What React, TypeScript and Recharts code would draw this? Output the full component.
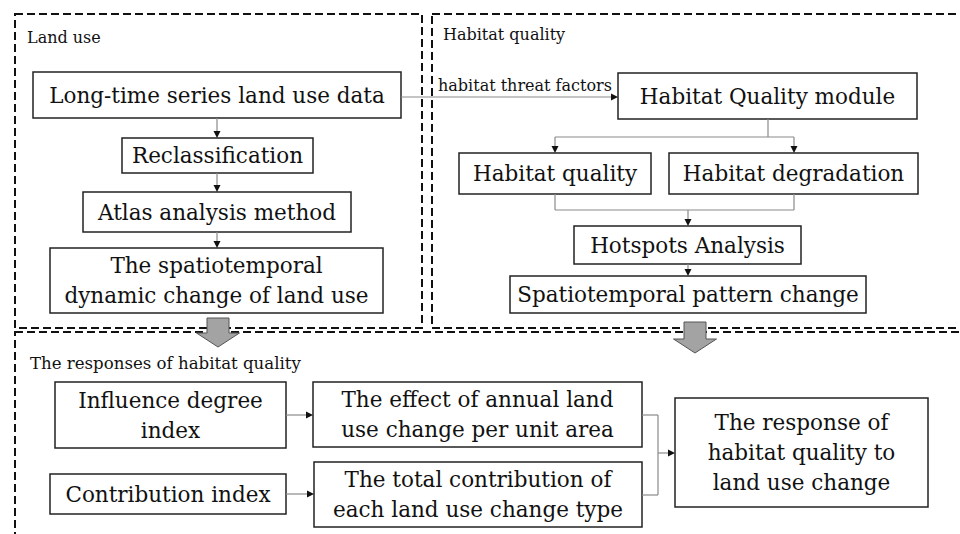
import React from "react";
import { ComposedChart, XAxis, YAxis, ReferenceArea, ReferenceLine, ReferenceDot } from "recharts";

// diagram space is 960 x 534 units, y grows downward
const WIDTH = 960;
const HEIGHT = 534;

const regions = [
  { id: "landUse", x1: 15, x2: 422, y1: 14, y2: 328 },
  { id: "habitat", x1: 432, x2: 975, y1: 14, y2: 328 },
  { id: "responses", x1: 15, x2: 975, y1: 332, y2: 550 },
];

const titles = [
  { text: "Land use", x: 27, y: 43, big: false },
  { text: "Habitat quality", x: 443, y: 40, big: false },
  { text: "The responses of habitat quality", x: 30, y: 369, big: true },
  { text: "habitat threat factors", x: 438, y: 91, big: false },
];

const boxes = [
  { lines: ["Long-time series land use data"], x1: 33, x2: 401, y1: 72, y2: 118 },
  { lines: ["Reclassification"], x1: 122, x2: 313, y1: 138, y2: 173 },
  { lines: ["Atlas analysis method"], x1: 83, x2: 351, y1: 192, y2: 232 },
  { lines: ["The spatiotemporal", "dynamic change of land use"], x1: 50, x2: 383, y1: 248, y2: 313 },
  { lines: ["Habitat Quality module"], x1: 618, x2: 917, y1: 73, y2: 119 },
  { lines: ["Habitat quality"], x1: 459, x2: 651, y1: 153, y2: 194 },
  { lines: ["Habitat degradation"], x1: 669, x2: 918, y1: 153, y2: 194 },
  { lines: ["Hotspots Analysis"], x1: 574, x2: 801, y1: 226, y2: 264 },
  { lines: ["Spatiotemporal pattern change"], x1: 510, x2: 866, y1: 276, y2: 313 },
  { lines: ["Influence degree", "index"], x1: 55, x2: 286, y1: 382, y2: 448 },
  { lines: ["Contribution index"], x1: 50, x2: 286, y1: 474, y2: 514 },
  { lines: ["The effect of annual land", "use change per unit area"], x1: 313, x2: 642, y1: 382, y2: 447 },
  { lines: ["The total contribution of", "each land use change type"], x1: 314, x2: 642, y1: 462, y2: 527 },
  { lines: ["The response of", "habitat quality to", "land use change"], x1: 675, x2: 928, y1: 398, y2: 507 },
];

// connectors: [x1, y1, x2, y2, hasArrowHead]
const links: [number, number, number, number, boolean][] = [
  [217, 118, 217, 138, true],
  [217, 173, 217, 192, true],
  [217, 232, 217, 248, true],
  [401, 97, 618, 97, true],
  [768, 119, 768, 137, false],
  [555, 137, 794, 137, false],
  [555, 137, 555, 153, true],
  [794, 137, 794, 153, true],
  [555, 194, 555, 210, false],
  [794, 194, 794, 210, false],
  [555, 210, 794, 210, false],
  [688, 210, 688, 226, true],
  [688, 264, 688, 276, true],
  [286, 415, 313, 415, true],
  [286, 494, 314, 494, true],
  [642, 415, 658, 415, false],
  [642, 495, 658, 495, false],
  [658, 415, 658, 495, false],
  [658, 453, 675, 453, true],
];

// big grey arrows between the panels: [x, yTop, yTip]
const blockArrows: [number, number, number][] = [
  [218, 318, 347],
  [695, 322, 353],
];

const FONT = "'DejaVu Serif', serif";
const INK = "#111";

const BoxShape = (props: any) => {
  const { x, y, width, height, lines } = props;
  const fs = 21.5;
  const lh = 30;
  const cx = x + width / 2;
  const cy = y + height / 2;
  return (
    <g>
      <rect x={x} y={y} width={width} height={height} fill="#fff" stroke="#222" strokeWidth={1.5} />
      <text textAnchor="middle" fontFamily={FONT} fontSize={fs} fill={INK}>
        {lines.map((t: string, i: number) => (
          <tspan key={i} x={cx} y={cy + (i - (lines.length - 1) / 2) * lh + fs * 0.36}>
            {t}
          </tspan>
        ))}
      </text>
    </g>
  );
};

const LinkShape = (props: any) => {
  const { x1, y1, x2, y2, arrow } = props;
  if (!arrow) return <line x1={x1} y1={y1} x2={x2} y2={y2} stroke="#8a8a8a" strokeWidth={1.2} />;
  const len = Math.hypot(x2 - x1, y2 - y1) || 1;
  const ux = (x2 - x1) / len;
  const uy = (y2 - y1) / len;
  const hl = 7;
  const hw = 3.5;
  const bx = x2 - ux * hl;
  const by = y2 - uy * hl;
  return (
    <g>
      <line x1={x1} y1={y1} x2={bx} y2={by} stroke="#8a8a8a" strokeWidth={1.2} />
      <polygon
        points={`${x2},${y2} ${bx - uy * hw},${by + ux * hw} ${bx + uy * hw},${by - ux * hw}`}
        fill="#111"
      />
    </g>
  );
};

const BlockArrowShape = (props: any) => {
  const { x1, y1, y2 } = props;
  const shaft = 11;
  const head = 21.5;
  const headLen = 14;
  const hb = y2 - headLen;
  const pts = [
    [x1 - shaft, y1],
    [x1 + shaft, y1],
    [x1 + shaft, hb],
    [x1 + head, hb],
    [x1, y2],
    [x1 - head, hb],
    [x1 - shaft, hb],
  ]
    .map((p) => p.join(","))
    .join(" ");
  return <polygon points={pts} fill="#a3a3a3" stroke="#555" strokeWidth={1} />;
};

export default function App() {
  return (
    <div style={{ position: "fixed", left: 0, top: 0, background: "#fff" }}>
      <ComposedChart width={WIDTH} height={HEIGHT} data={[]} margin={{ top: 0, right: 0, bottom: 0, left: 0 }}>
        <XAxis type="number" dataKey="x" domain={[0, WIDTH]} allowDataOverflow hide />
        <YAxis type="number" dataKey="y" domain={[0, HEIGHT]} allowDataOverflow reversed hide />

        {regions.map((r) => (
          <ReferenceArea
            key={r.id}
            x1={r.x1}
            x2={r.x2}
            y1={r.y1}
            y2={r.y2}
            ifOverflow="visible"
            shape={(p: any) => (
              <rect
                x={p.x}
                y={p.y}
                width={p.width}
                height={p.height}
                fill="none"
                stroke="#111"
                strokeWidth={2}
                strokeDasharray="8 4"
              />
            )}
          />
        ))}

        {titles.map((t) => (
          <ReferenceDot
            key={t.text}
            x={t.x}
            y={t.y}
            ifOverflow="visible"
            shape={(p: any) => (
              <text x={p.cx} y={p.cy} fontFamily={FONT} fontSize={t.big ? 16.6 : 16} fill={INK}>
                {t.text}
              </text>
            )}
          />
        ))}

        {links.map(([ax, ay, bx, by, arrow], i) => (
          <ReferenceLine
            key={`l${i}`}
            segment={[
              { x: ax, y: ay },
              { x: bx, y: by },
            ]}
            ifOverflow="visible"
            shape={(p: any) => <LinkShape {...p} arrow={arrow} />}
          />
        ))}

        {boxes.map((b, i) => (
          <ReferenceArea
            key={`b${i}`}
            x1={b.x1}
            x2={b.x2}
            y1={b.y1}
            y2={b.y2}
            ifOverflow="visible"
            shape={(p: any) => <BoxShape {...p} lines={b.lines} />}
          />
        ))}

        {blockArrows.map(([x, top, tip], i) => (
          <ReferenceLine
            key={`a${i}`}
            segment={[
              { x, y: top },
              { x, y: tip },
            ]}
            ifOverflow="visible"
            shape={(p: any) => <BlockArrowShape {...p} />}
          />
        ))}
      </ComposedChart>
    </div>
  );
}
